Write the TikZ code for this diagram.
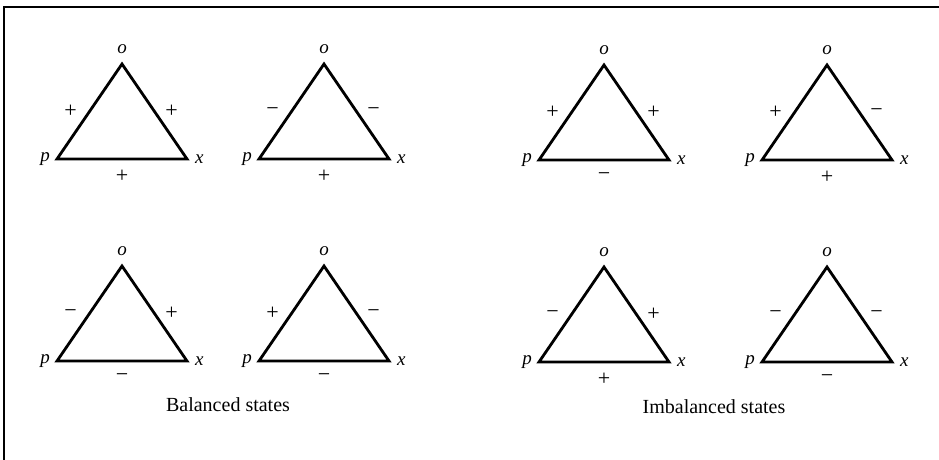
\documentclass[tikz,border=0pt]{standalone}
\usepackage{fontspec}
\setmainfont{Liberation Serif}
\usetikzlibrary{positioning}

\begin{document}
\begin{tikzpicture}[x=1pt, y=-1pt, font=\fontsize{19}{22}\selectfont,
    every node/.style={inner sep=0pt},
    tri/.style={line width=2.8pt, line join=miter},
    vtx/.style={font=\fontsize{19}{22}\selectfont\itshape},
    sgn/.style={font=\fontsize{22}{24}\selectfont}]
    \useasboundingbox (0,0) rectangle (939,460);

    % frame, open to the right and bottom
    \coordinate (fbot) at (4,460);
    \coordinate (fcorner) at (4,7);
    \coordinate (fright) at (939,7);
    \draw[line width=1.6pt] (fbot) -- (fcorner) -- (fright);

    \foreach \n/\cx/\cy/\l/\r/\b in {1/122/64/+/+/+, 2/324/64/−/−/+, 3/604/65/+/+/−, 4/827/65/+/−/+,
                                      5/122/266/−/+/−, 6/324/266/+/−/−, 7/604/267/−/+/+, 8/827/267/−/−/−}{
      \coordinate (o\n) at (\cx,\cy);
      \coordinate (p\n) at (\cx-65,\cy+95);
      \coordinate (x\n) at (\cx+65,\cy+95);
      \draw[tri] (o\n) -- (x\n) -- (p\n) -- cycle;

      \node[vtx, above=10pt of o\n] (lo\n) {o};
      \node[vtx, left=7pt of p\n] (lp\n) {p};
      \node[vtx, right=8pt of x\n] (lx\n) {x};

      \path (o\n) -- (p\n) node[sgn, midway, xshift=-19pt] (sl\n) {\l};
      \path (o\n) -- (x\n) node[sgn, midway, xshift=17pt] (sr\n) {\r};
      \path (p\n) -- (x\n) node[sgn, midway, yshift=-17pt] (sb\n) {\b};
    }

    \node[font=\fontsize{20}{24}\selectfont] (bal) at (228,405) {Balanced states};
    \node[font=\fontsize{20}{24}\selectfont] (imbal) at (714,407) {Imbalanced states};
\end{tikzpicture}
\end{document}
